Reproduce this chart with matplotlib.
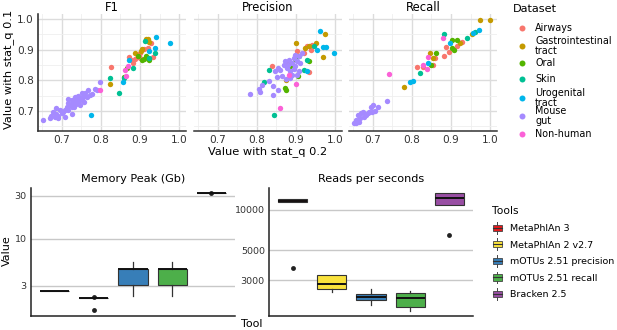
import numpy as np
import matplotlib.pyplot as plt
from matplotlib.lines import Line2D
from matplotlib.patches import Patch, Rectangle
from matplotlib.legend_handler import HandlerBase

# --- scatter data: (stat_q 0.2, stat_q 0.1) per dataset and metric ---
datasets = ["Airways", "Gastrointestinal\ntract", "Oral", "Skin",
            "Urogenital\ntract", "Mouse\ngut", "Non-human"]
ds_colors = ["#F8766D", "#C49A00", "#53B400", "#00C094", "#00B6EB", "#A58AFF", "#FB61D7"]

f1_airways = [(0.827, 0.842), (0.932, 0.875), (0.878, 0.865), (0.886, 0.870), (0.901, 0.873),
              (0.928, 0.920), (0.911, 0.902), (0.894, 0.884), (0.873, 0.876), (0.920, 0.905),
              (0.899, 0.889), (0.882, 0.857)]
f1_gi = [(0.823, 0.789), (0.886, 0.889), (0.905, 0.902), (0.920, 0.927), (0.921, 0.936),
         (0.916, 0.933), (0.903, 0.895), (0.924, 0.924), (0.894, 0.878)]
f1_oral = [(0.911, 0.870), (0.924, 0.865), (0.894, 0.880), (0.905, 0.867), (0.916, 0.880),
           (0.859, 0.811), (0.867, 0.840)]
f1_skin = [(0.913, 0.929), (0.823, 0.807), (0.846, 0.759), (0.882, 0.840), (0.859, 0.808),
           (0.937, 0.889), (0.924, 0.873)]
f1_uro = [(0.977, 0.922), (0.776, 0.686), (0.857, 0.793), (0.941, 0.941), (0.937, 0.905),
          (0.924, 0.895), (0.871, 0.867)]
f1_mouse = [(0.653, 0.670), (0.674, 0.684), (0.679, 0.698), (0.685, 0.690), (0.687, 0.709),
            (0.691, 0.684), (0.696, 0.703), (0.700, 0.695), (0.704, 0.698), (0.709, 0.705),
            (0.713, 0.714), (0.717, 0.703), (0.717, 0.725), (0.721, 0.720), (0.726, 0.712),
            (0.726, 0.736), (0.730, 0.725), (0.732, 0.714), (0.734, 0.731), (0.738, 0.723),
            (0.741, 0.738), (0.743, 0.731), (0.747, 0.742), (0.747, 0.720), (0.751, 0.736),
            (0.755, 0.747), (0.758, 0.731), (0.760, 0.758), (0.764, 0.745), (0.768, 0.769),
            (0.772, 0.753), (0.777, 0.756), (0.785, 0.771), (0.790, 0.769), (0.798, 0.795),
            (0.726, 0.690), (0.709, 0.681), (0.691, 0.676), (0.734, 0.745), (0.751, 0.758),
            (0.717, 0.738), (0.743, 0.749), (0.683, 0.679), (0.670, 0.676)]
f1_nonhuman = [(0.797, 0.767), (0.865, 0.815), (0.869, 0.846), (0.862, 0.833)]

prec_airways = [(0.838, 0.846), (0.933, 0.826), (0.879, 0.859), (0.928, 0.913), (0.941, 0.916),
                (0.937, 0.900), (0.920, 0.889), (0.903, 0.895)]
prec_gi = [(0.974, 0.952), (0.969, 0.876), (0.900, 0.922), (0.874, 0.802), (0.924, 0.905),
           (0.952, 0.922), (0.933, 0.911)]
prec_oral = [(0.872, 0.775), (0.874, 0.770), (0.905, 0.813), (0.898, 0.870), (0.933, 0.864),
             (0.885, 0.846)]
prec_skin = [(0.845, 0.688), (0.819, 0.793), (0.831, 0.835), (0.907, 0.878), (0.920, 0.835),
             (0.946, 0.911), (0.928, 0.867)]
prec_uro = [(0.960, 0.960), (0.969, 0.909), (0.976, 0.909), (0.997, 0.889), (0.928, 0.829),
            (0.954, 0.900)]
prec_mouse = [(0.782, 0.755), (0.806, 0.772), (0.808, 0.761), (0.812, 0.786), (0.832, 0.797),
              (0.842, 0.783), (0.840, 0.753), (0.855, 0.770), (0.851, 0.811), (0.859, 0.833),
              (0.868, 0.851), (0.872, 0.862), (0.877, 0.840), (0.881, 0.867), (0.885, 0.829),
              (0.890, 0.857), (0.894, 0.873), (0.898, 0.846), (0.903, 0.862), (0.907, 0.878),
              (0.911, 0.857), (0.916, 0.889), (0.864, 0.813), (0.874, 0.804), (0.885, 0.808),
              (0.890, 0.818), (0.903, 0.818), (0.855, 0.840), (0.847, 0.829), (0.894, 0.837),
              (0.907, 0.829), (0.879, 0.851), (0.898, 0.884)]
prec_nonhuman = [(0.859, 0.711), (0.901, 0.789), (0.881, 0.818)]

rec_airways = [(0.814, 0.842), (0.882, 0.879), (0.887, 0.909), (0.896, 0.893), (0.915, 0.912),
               (0.859, 0.872), (0.855, 0.850), (0.927, 0.926), (0.829, 0.844)]
rec_gi = [(0.779, 0.778), (0.974, 0.996), (1.000, 0.996), (0.953, 0.950), (0.923, 0.920),
          (0.846, 0.888), (0.855, 0.872)]
rec_oral = [(0.902, 0.931), (0.915, 0.931), (0.902, 0.904), (0.862, 0.890), (0.850, 0.850),
            (0.908, 0.899)]
rec_skin = [(0.821, 0.823), (0.882, 0.951), (0.962, 0.958), (0.940, 0.937)]
rec_uro = [(0.795, 0.793), (0.802, 0.799), (0.970, 0.964), (0.957, 0.953), (0.897, 0.920),
           (0.842, 0.855)]
rec_mouse = [(0.654, 0.660), (0.658, 0.671), (0.662, 0.687), (0.667, 0.676), (0.671, 0.692),
             (0.679, 0.681), (0.684, 0.687), (0.688, 0.692), (0.697, 0.714), (0.701, 0.720),
             (0.714, 0.712), (0.737, 0.734), (0.658, 0.660), (0.665, 0.665), (0.675, 0.696),
             (0.692, 0.698), (0.705, 0.700), (0.699, 0.698)]
rec_nonhuman = [(0.742, 0.820), (0.880, 0.937), (0.842, 0.877), (0.829, 0.850), (0.839, 0.837)]

panels = [
    ("F1", [f1_airways, f1_gi, f1_oral, f1_skin, f1_uro, f1_mouse, f1_nonhuman]),
    ("Precision", [prec_airways, prec_gi, prec_oral, prec_skin, prec_uro, prec_mouse, prec_nonhuman]),
    ("Recall", [rec_airways, rec_gi, rec_oral, rec_skin, rec_uro, rec_mouse, rec_nonhuman]),
]

# --- box plot summary stats (tool order) ---
tools = ["MetaPhlAn 3", "MetaPhlAn 2 v2.7", "mOTUs 2.51 precision", "mOTUs 2.51 recall", "Bracken 2.5"]
tool_colors = ["#E41A1C", "#F9E23C", "#377EB8", "#4DAF4A", "#984EA3"]

mem_lo = [2.62, 2.2, 2.33, 2.33, 32.1]
mem_q1 = [2.62, 2.2, 3.1, 3.1, 32.1]
mem_med = [2.62, 2.2, 4.64, 4.64, 32.1]
mem_q3 = [2.62, 2.2, 4.64, 4.64, 32.1]
mem_hi = [2.62, 2.2, 5.5, 5.5, 32.1]
mem_fliers = [[], [2.27, 1.61], [], [], [32.1]]

rps_lo = [11320, 2480, 1969, 1790, 10750]
rps_q1 = [11320, 2581, 2133, 1914, 10750]
rps_med = [11650, 2813, 2259, 2233, 12260]
rps_q3 = [11970, 3310, 2366, 2406, 13260]
rps_hi = [11970, 3310, 2580, 2495, 13260]
rps_fliers = [[3670], [], [], [], [6490]]

W, H = 617, 330
fig = plt.figure(figsize=(W / 100, H / 100), dpi=100)


def fx(px):
    return px / W


def fy(py):
    return 1 - py / H


ticks = [0.7, 0.8, 0.9, 1.0]
for i, (left, (title, groups)) in enumerate(zip([38, 194, 349], panels)):
    ax = fig.add_axes([fx(left), fy(131), 148 / W, 117 / H])
    for pts, col in zip(groups, ds_colors):
        arr = np.array(pts)
        ax.scatter(arr[:, 0], arr[:, 1], s=15, color=col, linewidths=0, zorder=3)
    ax.set_xlim(0.64, 1.017)
    ax.set_ylim(0.635, 1.016)
    ax.set_xticks(ticks)
    ax.set_xticklabels(["0.7", "0.8", "0.9", "1.0"])
    ax.set_xticks([0.65, 0.75, 0.85, 0.95], minor=True)
    ax.set_yticks(ticks)
    ax.set_yticks([0.65, 0.75, 0.85, 0.95], minor=True)
    if i == 0:
        ax.set_yticklabels(["0.7", "0.8", "0.9", "1.0"])
    else:
        ax.set_yticklabels([])
    ax.grid(True, which="major", color="#DCDCDC", lw=1.0)
    ax.grid(True, which="minor", color="#EFEFEF", lw=0.6)
    ax.set_axisbelow(True)
    ax.tick_params(which="both", length=0, labelsize=7.6, labelcolor="#333333", pad=3)
    for s in ["top", "right"]:
        ax.spines[s].set_visible(False)
    ax.spines["bottom"].set_color("#333333")
    ax.spines["bottom"].set_linewidth(1.1)
    if i == 0:
        ax.spines["left"].set_color("#222222")
        ax.spines["left"].set_linewidth(1.1)
    else:
        ax.spines["left"].set_visible(False)
    ax.set_title(title, fontsize=8.3, pad=2.5)

fig.text(fx(9), fy(69), "Value with stat_q 0.1", rotation=90, ha="center", va="center", fontsize=8.2)
fig.text(fx(268), fy(152), "Value with stat_q 0.2", ha="center", va="center", fontsize=8.2)

# Dataset legend, laid out like the ggplot guide (keys overlap wrapped labels)
fig.text(fx(513), fy(9), "Dataset", ha="left", va="center", fontsize=8.1)
key_rows = [28, 46, 63, 79, 98, 116, 134]
for lab, col, row in zip(datasets, ds_colors, key_rows):
    fig.add_artist(Line2D([fx(522)], [fy(row)], transform=fig.transFigure, marker="o", ls="",
                          markersize=4.3, markerfacecolor=col, markeredgewidth=0))
    fig.text(fx(535), fy(row), lab, ha="left", va="center", fontsize=6.9, linespacing=0.95)


class BoxKey(HandlerBase):
    def create_artists(self, legend, orig_handle, xdescent, ydescent, width, height, fontsize, trans):
        x0, y0 = -xdescent, -ydescent
        cx, cy = x0 + width / 2, y0 + height / 2
        whisk = Line2D([cx, cx], [y0 - 0.25 * height, y0 + 1.25 * height], color="#444444", lw=0.7,
                       transform=trans)
        box = Rectangle((x0, y0 + 0.1 * height), width, 0.8 * height,
                        facecolor=orig_handle.get_facecolor(), edgecolor="#444444", lw=0.6,
                        transform=trans)
        med = Line2D([x0, x0 + width], [cy, cy], color="#333333", lw=0.8, transform=trans)
        return [whisk, box, med]


def draw_boxes(ax, lo, q1, med, q3, hi, fliers):
    stats = []
    for k in range(len(tools)):
        stats.append(dict(whislo=lo[k], q1=q1[k], med=med[k], q3=q3[k], whishi=hi[k], fliers=fliers[k]))
    bp = ax.bxp(stats, positions=range(len(tools)), widths=0.75, patch_artist=True,
                showfliers=True,
                medianprops=dict(color="#111111", lw=1.4),
                whiskerprops=dict(color="#333333", lw=0.9),
                capprops=dict(visible=False),
                flierprops=dict(marker="o", markersize=3.5, markerfacecolor="#222222",
                                markeredgewidth=0),
                boxprops=dict(edgecolor="#333333", lw=0.8))
    for patch, col in zip(bp["boxes"], tool_colors):
        patch.set_facecolor(col)
    ax.set_yscale("log")
    ax.set_xlim(-0.6, 4.6)
    ax.set_xticks([])
    ax.minorticks_off()
    ax.grid(True, axis="y", color="#C8C8C8", lw=1.0)
    ax.set_axisbelow(True)
    ax.tick_params(axis="y", length=0, labelsize=6.8, labelcolor="#333333", pad=3)
    for s in ["top", "right"]:
        ax.spines[s].set_visible(False)
    for s in ["left", "bottom"]:
        ax.spines[s].set_color("#222222")
        ax.spines[s].set_linewidth(1.1)


ax_mem = fig.add_axes([fx(31), fy(316), 204 / W, 128 / H])
draw_boxes(ax_mem, mem_lo, mem_q1, mem_med, mem_q3, mem_hi, mem_fliers)
ax_mem.set_ylim(1.39, 36.8)
ax_mem.set_yticks([3, 10, 30])
ax_mem.set_yticklabels(["3", "10", "30"])
ax_mem.minorticks_off()
ax_mem.set_title("Memory Peak (Gb)", fontsize=8.1, pad=4.5)

ax_rps = fig.add_axes([fx(269), fy(316), 204 / W, 128 / H])
draw_boxes(ax_rps, rps_lo, rps_q1, rps_med, rps_q3, rps_hi, rps_fliers)
ax_rps.set_ylim(1636, 14430)
ax_rps.set_yticks([3000, 5000, 10000])
ax_rps.set_yticklabels(["3000", "5000", "10000"])
ax_rps.minorticks_off()
ax_rps.set_title("Reads per seconds", fontsize=8.1, pad=4.5)

fig.text(fx(7), fy(251), "Value", rotation=90, ha="center", va="center", fontsize=8)
fig.text(fx(252), fy(324), "Tool", ha="center", va="center", fontsize=8)

tool_handles = [Patch(facecolor=c) for c in tool_colors]
fig.legend(tool_handles, tools, loc="upper left", bbox_to_anchor=(fx(484), fy(198)),
           frameon=False, title="Tools", fontsize=6.8, title_fontsize=7.7,
           labelspacing=0.78, handletextpad=0.9, handlelength=1.0, handleheight=0.9,
           alignment="left", handler_map={Patch: BoxKey()})

fig.savefig("out.png", dpi=100)
